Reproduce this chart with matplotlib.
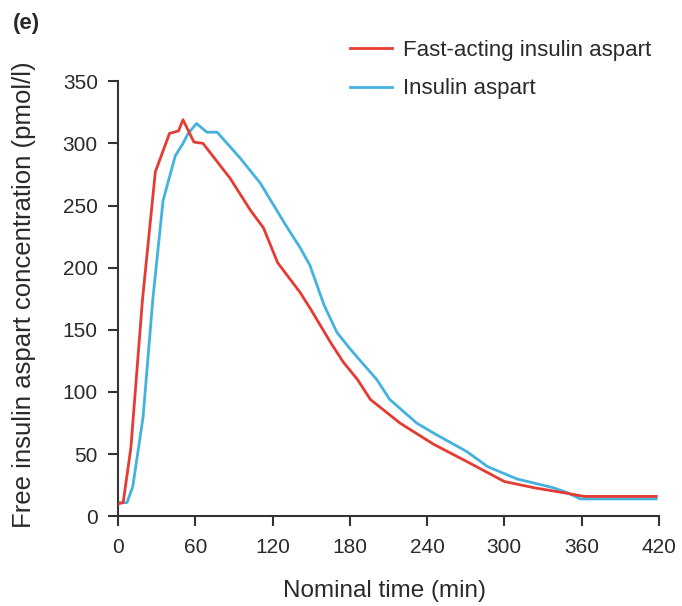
import matplotlib
matplotlib.use("Agg")
import matplotlib.pyplot as plt

# free insulin aspart PK profiles
t_faster = [0, 4, 10, 19, 29, 40, 47, 50.5, 59, 66, 87, 103, 113, 124, 141.5,
            150, 165, 175, 186, 196, 219, 245, 271, 300, 323, 346, 362, 418]
c_faster = [10, 11, 55, 174, 277, 308, 310, 319, 301, 300, 272, 246, 232, 204, 180,
            166, 140, 124, 110, 94, 75, 58, 44, 28, 23, 19, 16, 16]

t_aspart = [0, 7, 11.5, 19.5, 27, 35, 44.5, 50.5, 54.5, 61, 69, 77, 95, 110.5, 131,
            141.5, 149, 160, 170, 180, 190, 201, 211, 232, 245, 271, 287, 310, 338,
            349, 359, 418]
c_aspart = [11, 11, 24, 80, 174, 254, 290, 300, 308, 316, 309, 309, 288, 268, 233,
            216, 202, 170, 148, 135, 123, 110, 94, 75, 67, 52, 40, 30, 23,
            19, 14, 14]

x_ticks = [0, 60, 120, 180, 240, 300, 360, 420]
y_ticks = [0, 50, 100, 150, 200, 250, 300, 350]

plt.rcParams["font.family"] = ["Liberation Sans", "DejaVu Sans"]
txt = "#2a2a2a"

fig = plt.figure(figsize=(6.82, 6.06), dpi=100)
ax = fig.add_axes([0.173, 0.148, 0.793, 0.718])

ax.plot(t_faster, c_faster, color="#e63b33", lw=2, label="Fast-acting insulin aspart", zorder=3)
ax.plot(t_aspart, c_aspart, color="#44b2df", lw=2, label="Insulin aspart", zorder=2)

ax.set_xlim(0, 420)
ax.set_ylim(0, 350)
ax.set_xticks(x_ticks)
ax.set_yticks(y_ticks)
ax.tick_params(labelsize=15, length=7.5, width=1.5, color="#333333", labelcolor=txt)
ax.tick_params(axis="x", pad=8)
ax.tick_params(axis="y", pad=7)
for side in ["top", "right"]:
    ax.spines[side].set_visible(False)
for side in ["left", "bottom"]:
    ax.spines[side].set_linewidth(1.5)
    ax.spines[side].set_color("#333333")

# axis titles placed in figure coords to match the original layout
fig.text(384.5 / 682, 1 - 591 / 606, "Nominal time (min)", fontsize=17.5, color=txt,
         ha="center", va="center")
fig.text(24 / 682, 1 - 295 / 606, "Free insulin aspart concentration (pmol/l)", fontsize=18.5,
         color=txt, ha="center", va="center", rotation=90)
fig.text(13 / 682, 1 - 23 / 606, "(e)", fontsize=16, fontweight="bold", color=txt,
         ha="left", va="center")

ax.legend(loc="upper left", bbox_to_anchor=(350 / 682, 1 - 40 / 606), bbox_transform=fig.transFigure,
          frameon=False, fontsize=16, handlelength=1.9, handletextpad=0.5,
          labelspacing=0.78, borderpad=0, borderaxespad=0, labelcolor=txt)

fig.savefig("out.png", dpi=100)
